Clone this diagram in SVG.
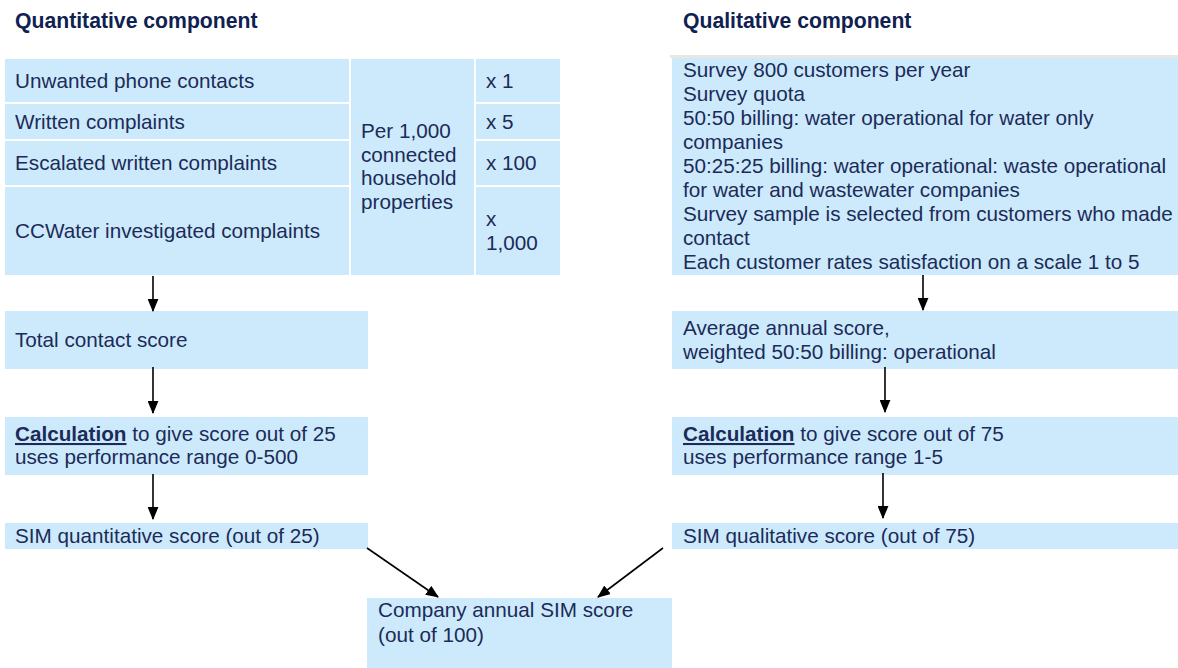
<svg xmlns="http://www.w3.org/2000/svg" width="1178" height="668" viewBox="0 0 1178 668">
  <defs>
    <style>
      .box { fill: #cceafc; }
      .t { font-family: "Liberation Sans", Arial, sans-serif; font-size: 20.7px; fill: #1c2b58; }
      .h { font-family: "Liberation Sans", Arial, sans-serif; font-size: 21.2px; font-weight: bold; fill: #0f2150; }
      .b { font-weight: bold; text-decoration: underline; }
      .edge { stroke: #000; stroke-width: 1.6; fill: none; marker-end: url(#arrow); }
    </style>
    <marker id="arrow" viewBox="0 0 12 10" refX="11" refY="5" markerUnits="userSpaceOnUse" markerWidth="13" markerHeight="11" orient="auto">
      <path d="M0,0 L12,5 L0,10 Z" fill="#000"/>
    </marker>
  </defs>
  <rect width="1178" height="668" fill="#fff"/>

  <!-- section headings -->
  <g id="heading-quantitative">
    <text class="h" x="15" y="28">Quantitative component</text>
  </g>
  <g id="heading-qualitative">
    <text class="h" x="683" y="28">Qualitative component</text>
  </g>

  <!-- contact measures table -->
  <g id="contact-table">
    <rect class="box" x="5" y="59" width="344" height="43"/>
    <rect class="box" x="5" y="104" width="344" height="35"/>
    <rect class="box" x="5" y="141" width="344" height="44"/>
    <rect class="box" x="5" y="187" width="344" height="88"/>
    <rect class="box" x="351" y="59" width="123" height="216"/>
    <rect class="box" x="476" y="59" width="84" height="43"/>
    <rect class="box" x="476" y="104" width="84" height="35"/>
    <rect class="box" x="476" y="141" width="84" height="44"/>
    <rect class="box" x="476" y="187" width="84" height="88"/>
    <text class="t" x="15" y="88">Unwanted phone contacts</text>
    <text class="t" x="15" y="129">Written complaints</text>
    <text class="t" x="15" y="170">Escalated written complaints</text>
    <text class="t" x="15" y="238">CCWater investigated complaints</text>
    <text class="t" x="361" y="138">Per 1,000</text>
    <text class="t" x="361" y="161.5">connected</text>
    <text class="t" x="361" y="185">household</text>
    <text class="t" x="361" y="208.5">properties</text>
    <text class="t" x="486" y="88">x 1</text>
    <text class="t" x="486" y="129">x 5</text>
    <text class="t" x="486" y="170">x 100</text>
    <text class="t" x="486" y="226">x</text>
    <text class="t" x="486" y="250">1,000</text>
  </g>

  <!-- survey description -->
  <g id="survey">
    <rect x="670" y="55" width="508" height="3" fill="#e8e8e0"/>
    <rect class="box" x="672" y="58" width="506" height="217"/>
    <text class="t" x="683" y="77">Survey 800 customers per year</text>
    <text class="t" x="683" y="101">Survey quota</text>
    <text class="t" x="683" y="125">50:50 billing: water operational for water only</text>
    <text class="t" x="683" y="149">companies</text>
    <text class="t" x="683" y="173">50:25:25 billing: water operational: waste operational</text>
    <text class="t" x="683" y="197">for water and wastewater companies</text>
    <text class="t" x="683" y="221">Survey sample is selected from customers who made</text>
    <text class="t" x="683" y="245">contact</text>
    <text class="t" x="683" y="269">Each customer rates satisfaction on a scale 1 to 5</text>
  </g>

  <g id="total-contact">
    <rect class="box" x="5" y="311" width="363" height="58"/>
    <text class="t" x="15" y="347">Total contact score</text>
  </g>

  <g id="calc-quantitative">
    <rect class="box" x="5" y="417" width="363" height="58"/>
    <text class="t" x="15" y="441"><tspan class="b">Calculation</tspan> to give score out of 25</text>
    <text class="t" x="15" y="464">uses performance range 0-500</text>
  </g>

  <g id="sim-quantitative">
    <rect class="box" x="5" y="523" width="363" height="26"/>
    <text class="t" x="15" y="543">SIM quantitative score (out of 25)</text>
  </g>

  <g id="average-annual">
    <rect class="box" x="672" y="311" width="506" height="58"/>
    <text class="t" x="683" y="335">Average annual score,</text>
    <text class="t" x="683" y="359">weighted 50:50 billing: operational</text>
  </g>

  <g id="calc-qualitative">
    <rect class="box" x="672" y="417" width="506" height="58"/>
    <text class="t" x="683" y="441"><tspan class="b">Calculation</tspan> to give score out of 75</text>
    <text class="t" x="683" y="464">uses performance range 1-5</text>
  </g>

  <g id="sim-qualitative">
    <rect class="box" x="672" y="523" width="506" height="26"/>
    <text class="t" x="683" y="543">SIM qualitative score (out of 75)</text>
  </g>

  <g id="company-sim">
    <rect class="box" x="367" y="598" width="305" height="70"/>
    <text class="t" x="378" y="617">Company annual SIM score</text>
    <text class="t" x="378" y="642">(out of 100)</text>
  </g>

  <!-- connectors -->
  <g id="connectors">
    <line class="edge" x1="153" y1="276" x2="153" y2="311"/>
    <line class="edge" x1="153" y1="367" x2="153" y2="413"/>
    <line class="edge" x1="153" y1="474" x2="153" y2="519"/>
    <line class="edge" x1="923" y1="275" x2="923" y2="310"/>
    <line class="edge" x1="885" y1="367" x2="885" y2="412"/>
    <line class="edge" x1="883" y1="473" x2="883" y2="518"/>
    <line class="edge" x1="367" y1="548" x2="438" y2="597"/>
    <line class="edge" x1="663" y1="548" x2="598" y2="597"/>
  </g>
</svg>
